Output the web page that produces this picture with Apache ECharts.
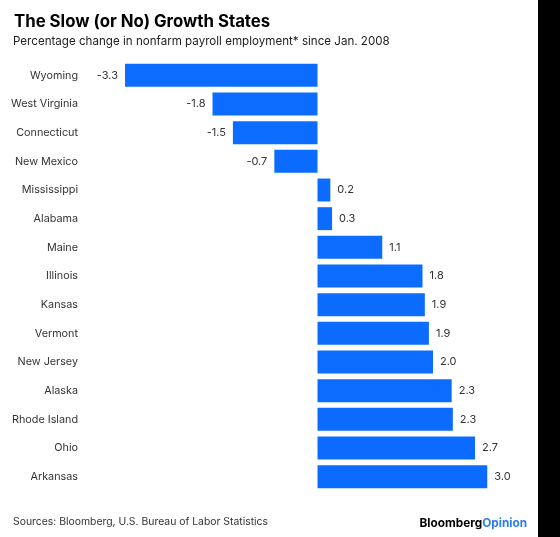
<!DOCTYPE html>
<html>
<head>
<meta charset="utf-8">
<script src="https://cdn.jsdelivr.net/npm/echarts@6/dist/echarts.min.js"></script>
<style>
html,body{margin:0;padding:0;background:#000;}
#chart{width:538px;height:537px;background:#fff;}
</style>
</head>
<body>
<div id="chart"></div>
<script>
var states = ['Wyoming','West Virginia','Connecticut','New Mexico','Mississippi','Alabama','Maine','Illinois','Kansas','Vermont','New Jersey','Alaska','Rhode Island','Ohio','Arkansas'];
var values = [-3.3,-1.8,-1.45,-0.74,0.22,0.25,1.11,1.8,1.84,1.91,1.98,2.3,2.32,2.7,2.91];
var valueLabels = ['-3.3','-1.8','-1.5','-0.7','0.2','0.3','1.1','1.8','1.9','1.9','2.0','2.3','2.3','2.7','3.0'];
var titleText = 'The Slow (or No) Growth States';
var subtitleText = 'Percentage change in nonfarm payroll employment* since Jan. 2008';
var sourceText = 'Sources: Bloomberg, U.S. Bureau of Labor Statistics';

var FONT = 'Inter';
var BLUE = '#0b6cff';
var chart = echarts.init(document.getElementById('chart'), null, {renderer:'canvas'});
chart.setOption({
  animation:false,
  backgroundColor:'#fff',
  grid:{left:125, top:61, width:367.5, height:430, containLabel:false},
  xAxis:{type:'value', min:-3.3, max:3.0, show:false},
  yAxis:{type:'category', data:states, inverse:true,
    axisLine:{show:false}, axisTick:{show:false}, splitLine:{show:false},
    axisLabel:{margin:47, color:'#333', fontSize:10.8, fontFamily:FONT}},
  series:[{
    type:'bar', barCategoryGap:'20%',
    data:values.map(function(v,i){
      return {value:v, label:{position: v<0?'left':'right'}};
    }),
    itemStyle:{color:BLUE},
    label:{show:true, distance:7, color:'#333', fontSize:11, fontFamily:FONT,
      formatter:function(p){return valueLabels[p.dataIndex];}}
  }],
  graphic:[
    {type:'text', left:14, top:13, style:{text:titleText, font:'bold 16.8px '+FONT, fill:'#000'}},
    {type:'text', left:13, top:36, style:{text:subtitleText, font:'11.6px '+FONT, fill:'#222'}},
    {type:'text', left:13, top:517, style:{text:sourceText, font:'10.4px '+FONT, fill:'#333'}},
    {type:'text', right:11, top:517, style:{
      text:'{a|Bloomberg}{b|Opinion}',
      rich:{a:{font:'bold 11.8px '+FONT, fill:'#000'}, b:{font:'bold 11.8px '+FONT, fill:'#2b7de9'}}
    }}
  ]
});
</script>
</body>
</html>
